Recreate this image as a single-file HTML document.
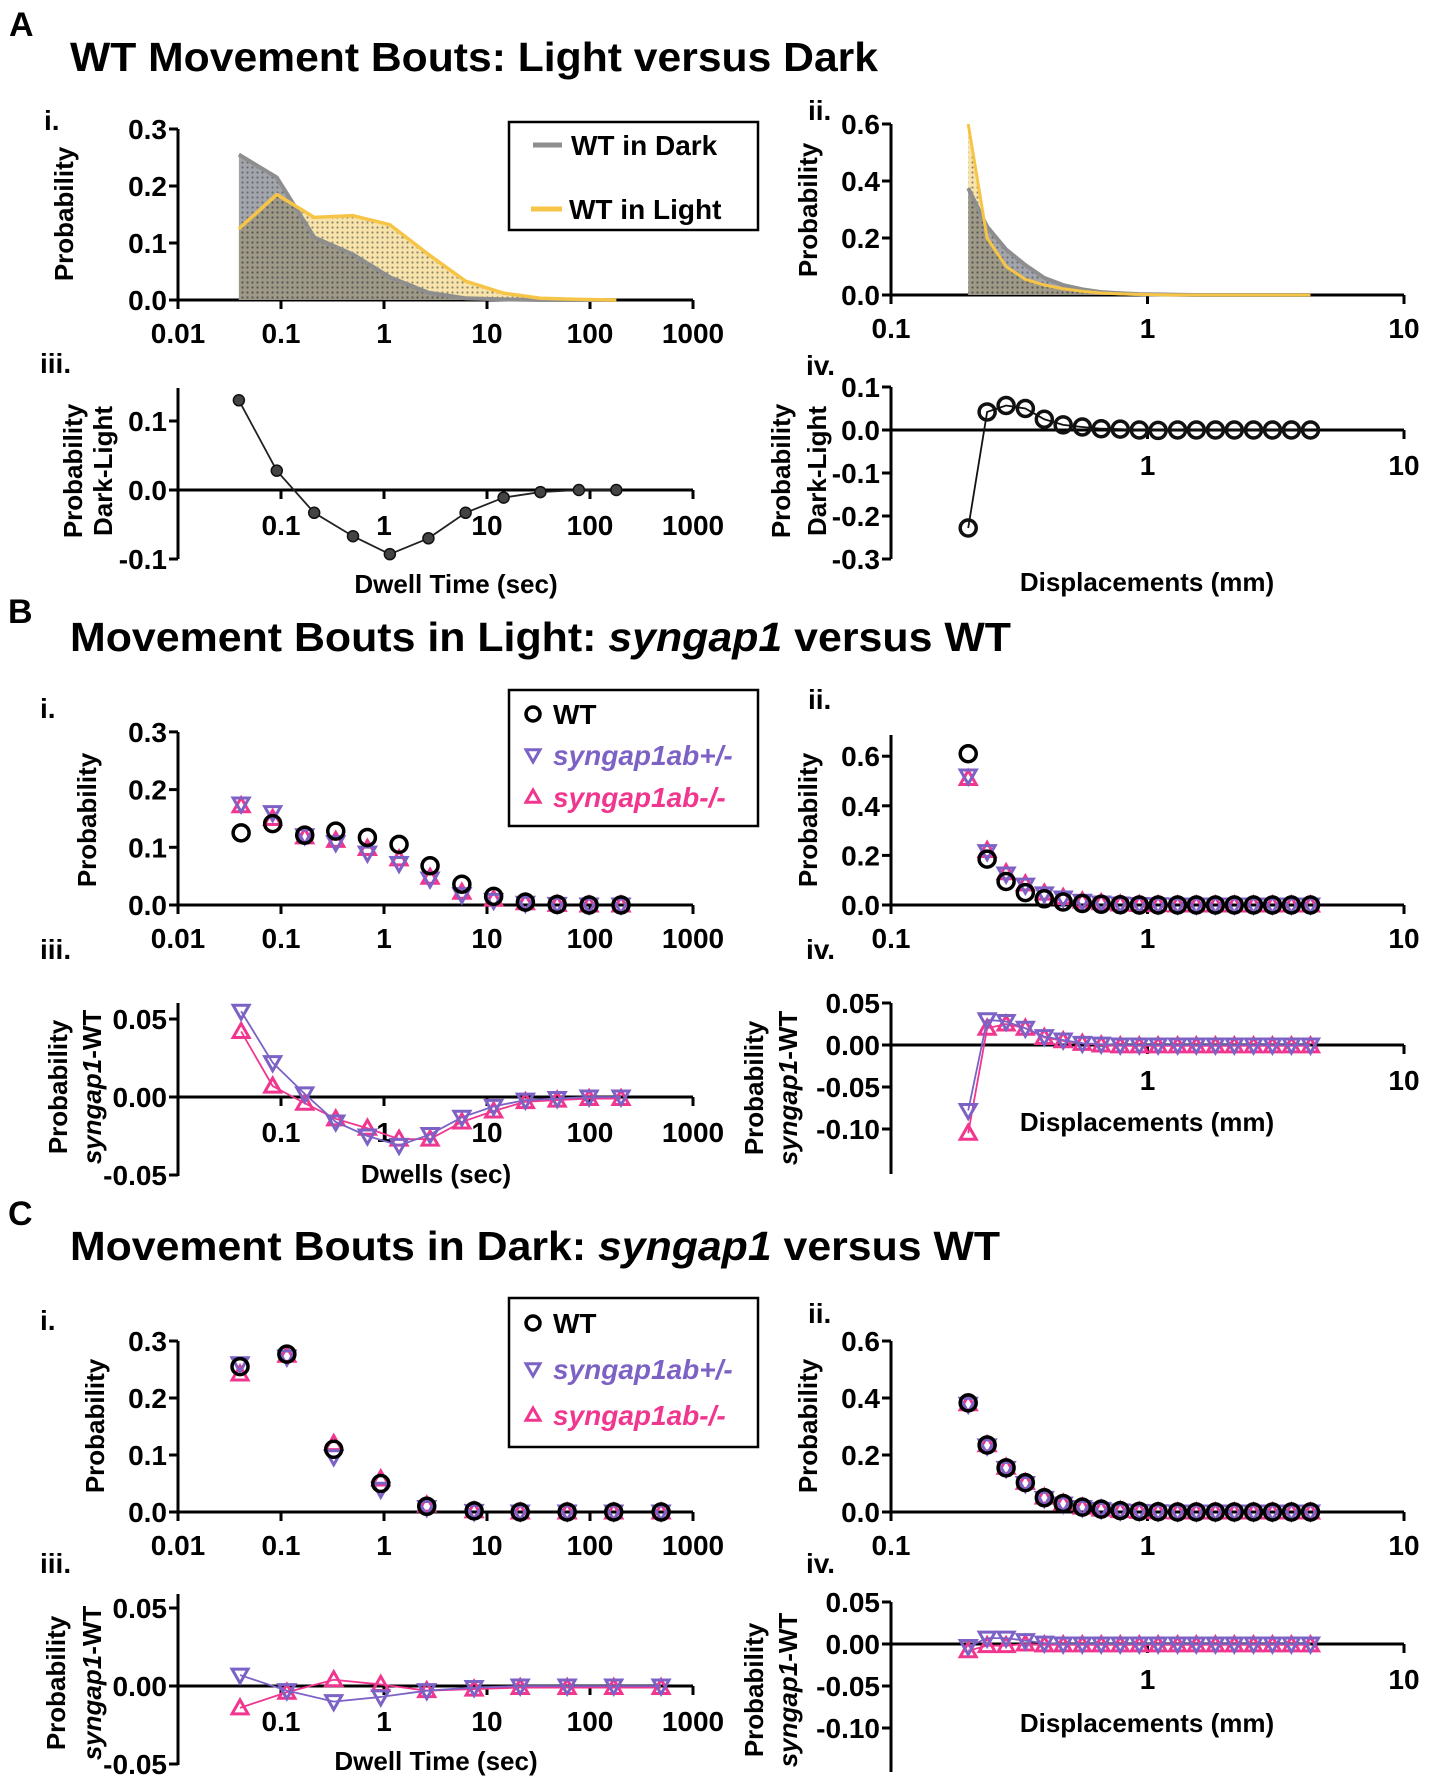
<!DOCTYPE html>
<html><head><meta charset="utf-8">
<style>
html,body{margin:0;padding:0;background:#fff;}
svg{display:block;font-family:"Liberation Sans",Arial,sans-serif;font-weight:bold;}
</style></head>
<body>
<svg id="fig" width="1429" height="1785" viewBox="0 0 1429 1785" xmlns="http://www.w3.org/2000/svg">
<defs>
<pattern id="dots" width="5" height="5" patternUnits="userSpaceOnUse"><circle cx="2.5" cy="2.5" r="1.1" fill="#444"/></pattern>
</defs>
<text x="9" y="36" font-size="34">A</text>
<text x="70" y="71" font-size="41" textLength="808" lengthAdjust="spacingAndGlyphs">WT Movement Bouts: Light versus Dark</text>
<text x="8" y="623" font-size="34">B</text>
<text x="70" y="651" font-size="41" textLength="941" lengthAdjust="spacingAndGlyphs">Movement Bouts in Light: <tspan font-style="italic">syngap1</tspan> versus WT</text>
<text x="8" y="1225" font-size="34">C</text>
<text x="70" y="1260" font-size="41" textLength="930" lengthAdjust="spacingAndGlyphs">Movement Bouts in Dark: <tspan font-style="italic">syngap1</tspan> versus WT</text>
<g id="root"></g>
</svg>
<script>
// ---------- data ----------
const aDwellX = [0.039,0.091,0.21,0.50,1.14,2.7,6.2,14.5,33,78,180];
const aDwellDark = [0.255,0.215,0.11,0.08,0.04,0.013,0.003,0.001,0,0,0];
const aDwellLight = [0.125,0.185,0.145,0.148,0.132,0.08,0.033,0.012,0.003,0.001,0];
const aDwellDiff = [0.13,0.028,-0.033,-0.067,-0.093,-0.07,-0.033,-0.011,-0.003,0,0];
const dispX = [0.2,0.237,0.281,0.334,0.396,0.469,0.557,0.66,0.783,0.929,1.10,1.31,1.55,1.84,2.18,2.59,3.07,3.64,4.32];
const aDispDark = [0.375,0.24,0.16,0.105,0.06,0.035,0.02,0.01,0.006,0.003,0.002,0.001,0,0,0,0,0,0,0];
const aDispLight = [0.6,0.2,0.1,0.055,0.035,0.022,0.013,0.007,0.004,0.002,0.001,0,0,0,0,0,0,0,0];
const aDispDiff = [-0.228,0.042,0.057,0.05,0.025,0.012,0.007,0.003,0.002,0,-0.001,0,0,0,0,0,0,0,0];
const bDwellX = [0.041,0.083,0.17,0.34,0.69,1.4,2.8,5.7,11.6,23.6,48,98,200];
const bDwellWT = [0.125,0.141,0.121,0.128,0.117,0.105,0.068,0.036,0.015,0.005,0.001,0,0];
const bDwellHet = [0.175,0.160,0.12,0.108,0.09,0.072,0.045,0.018,0.008,0.003,0.001,0,0];
const bDwellHom = [0.172,0.150,0.118,0.112,0.098,0.080,0.048,0.022,0.01,0.004,0.001,0,0];
const bDwellDiffHet = [0.055,0.022,0.002,-0.016,-0.025,-0.031,-0.024,-0.013,-0.006,-0.002,-0.001,0,0];
const bDwellDiffHom = [0.042,0.007,-0.004,-0.014,-0.020,-0.027,-0.027,-0.016,-0.009,-0.003,-0.002,-0.001,-0.001];
const bDispWT = [0.61,0.185,0.095,0.05,0.025,0.012,0.006,0.003,0.001,0,0,0,0,0,0,0,0,0,0];
const bDispHet = [0.52,0.215,0.125,0.08,0.045,0.028,0.015,0.008,0.004,0.002,0.001,0,0,0,0,0,0,0,0];
const bDispHom = [0.51,0.22,0.13,0.085,0.048,0.03,0.016,0.009,0.004,0.002,0.001,0,0,0,0,0,0,0,0];
const bDispDiffHet = [-0.078,0.03,0.028,0.02,0.01,0.006,0.002,0.001,0,0,0,0,0,0,0,0,0,0,0];
const bDispDiffHom = [-0.105,0.02,0.025,0.02,0.009,0.005,0.002,0,-0.001,-0.001,-0.001,-0.001,-0.001,-0.001,-0.001,-0.001,-0.001,-0.001,-0.001];
const cDwellX = [0.04,0.114,0.325,0.93,2.6,7.5,21,60,170,490];
const cDwellWT = [0.255,0.277,0.11,0.05,0.01,0.002,0,0,0,0];
const cDwellHet = [0.26,0.272,0.097,0.04,0.008,0.001,0,0,0,0];
const cDwellHom = [0.242,0.275,0.12,0.058,0.012,0.002,0,0,0,0];
const cDwellDiffHet = [0.007,-0.003,-0.01,-0.007,-0.003,-0.001,0,0,0,0];
const cDwellDiffHom = [-0.014,-0.004,0.004,0.001,-0.003,-0.002,-0.001,-0.001,-0.001,-0.001];
const cDispWT = [0.383,0.235,0.155,0.103,0.05,0.03,0.017,0.01,0.005,0.002,0.001,0,0,0,0,0,0,0,0];
const cDispHet = [0.378,0.232,0.153,0.1,0.048,0.028,0.016,0.009,0.004,0.002,0.001,0,0,0,0,0,0,0,0];
const cDispHom = [0.38,0.236,0.157,0.104,0.052,0.031,0.017,0.01,0.005,0.002,0.001,0,0,0,0,0,0,0,0];
const cDispDiffHet = [-0.003,0.007,0.007,0.004,0.001,0,0,0,0,0,0,0,0,0,0,0,0,0,0];
const cDispDiffHom = [-0.008,-0.002,-0.002,0,-0.001,-0.001,-0.001,-0.001,-0.001,-0.001,-0.001,-0.001,-0.001,-0.001,-0.001,-0.001,-0.001,-0.001,-0.001];
const dwellTickLabels = ["0.01","0.1","1","10","100","1000"];
const dispTickLabels = ["0.1","1","10"];

// ---------- helpers ----------
const NS="http://www.w3.org/2000/svg";
const root=document.getElementById('root');
const PURPLE="#7d62c6", PINK="#f0368e";
function mk(tag,attrs,parent){const e=document.createElementNS(NS,tag);for(const k in attrs)e.setAttribute(k,attrs[k]);(parent||root).appendChild(e);return e;}

function makeAxes(cfg){
  const g=mk('g',{});
  
  
  const X=v=>cfg.left+(Math.log10(v)-Math.log10(cfg.x0))*cfg.dec;
  const Y=v=>cfg.y0-v*cfg.k;
  const ax=mk('line',{x1:cfg.left,y1:cfg.yTop,x2:cfg.left,y2:cfg.yBot,stroke:'#000','stroke-width':3},g);
  
  
  const xa=mk('line',{x1:cfg.left,y1:cfg.y0,x2:cfg.xEnd,y2:cfg.y0,stroke:'#000','stroke-width':3},g);
  
  
  cfg.ticks.forEach(t=>{
    const y=Y(t);
    mk('line',{x1:cfg.left-9,y1:y,x2:cfg.left,y2:y,stroke:'#000','stroke-width':3},g);
    const tl=mk('text',{x:cfg.left-11,y:y+10,'font-size':28,'text-anchor':'end'},g);
    
    
    tl.textContent=t.toFixed(cfg.dp);
  });
  cfg.xTickLabels.forEach((lab,i)=>{
    const v=parseFloat(lab);const x=X(v);
    mk('line',{x1:x,y1:cfg.y0,x2:x,y2:cfg.y0+9,stroke:'#000','stroke-width':3},g);
    if(cfg.diff && i===0) return;
    const tl=mk('text',{x:x,y:cfg.y0+(cfg.diff?45:43),'font-size':28,'text-anchor':'middle'},g);
    
    
    tl.textContent=lab;
  });
  return {g,X,Y};
}
function label(txt,x,y,size,attrs){const t=mk('text',Object.assign({x:x,y:y,'font-size':size},attrs||{}));t.textContent=txt;return t;}
function ylab(lines,xs,cy){
  lines.forEach((l,i)=>{
    const t=mk('text',{transform:`translate(${xs[i]},${cy}) rotate(-90)`,'font-size':26,'text-anchor':'middle',dy:9});
    
    
    if(l==='syngap1-WT'){const a=mk('tspan',{'font-style':'italic'},t);a.textContent='syngap1';const b=mk('tspan',{},t);b.textContent='-WT';}
    else t.textContent=l;
  });
}
function marker(g,type,x,y,color,r){
  r=r||8;
  let e;
  if(type==='circle') e=mk('circle',{cx:x,cy:y,r:r,fill:'none',stroke:color,'stroke-width':3.5},g);
  else if(type==='down') e=mk('path',{d:`M${x-r},${y-r*0.75}L${x+r},${y-r*0.75}L${x},${y+r}Z`,fill:'none',stroke:color,'stroke-width':3},g);
  else e=mk('path',{d:`M${x-r},${y+r*0.75}L${x+r},${y+r*0.75}L${x},${y-r}Z`,fill:'none',stroke:color,'stroke-width':3},g);
  
  
  return e;
}
function series(ax,xs,ys,type,color,withLine,lw,name){
  const g=mk('g',{},ax.g);
  
  
  if(withLine){
    const p=mk('polyline',{points:xs.map((v,i)=>ax.X(v)+','+ax.Y(ys[i])).join(' '),fill:'none',stroke:color,'stroke-width':lw||1.8},g);
    
    
  }
  xs.forEach((v,i)=>marker(g,type,ax.X(v),ax.Y(ys[i]),color));
}
function area(ax,xs,ys,fill,stroke,sw,name){
  const pts=[ax.X(xs[0])+','+ax.Y(0)].concat(xs.map((v,i)=>ax.X(v)+','+ax.Y(ys[i]))).concat([ax.X(xs[xs.length-1])+','+ax.Y(0)]).join(' ');
  const a=mk('polygon',{points:pts,fill:fill},ax.g);
  
  
  mk('polygon',{points:pts,fill:'url(#dots)',opacity:0.6},ax.g);
  return ()=>{const l=mk('polyline',{points:xs.map((v,i)=>ax.X(v)+','+ax.Y(ys[i])).join(' '),fill:'none',stroke:stroke,'stroke-width':sw,'stroke-linejoin':'round'},ax.g);
    
    };
}
function legendGeno(x,y,w,h,rows){
  const g=mk('g',{});
  
  
  mk('rect',{x:x,y:y,width:w,height:h,fill:'#fff',stroke:'#000','stroke-width':2.5},g);
  const items=[['circle','#000','WT',false],['down',PURPLE,'syngap1ab+/-',true],['up',PINK,'syngap1ab-/-',true]];
  items.forEach((it,i)=>{
    const e=mk('g',{},g);
    
    
    marker(e,it[0],x+24,rows[i],it[1],7);
    const t=mk('text',{x:x+44,y:rows[i]+10,'font-size':28,fill:it[1],'font-style':it[3]?'italic':'normal'},e);
    t.textContent=it[2];
  });
}
function sub(txt,x,y){const t=label(txt,x,y,28);}
function xtitle(txt,x,y){const t=label(txt,x,y,26,{'text-anchor':'middle'});}

const L={left:178,x0:0.01,dec:103,xEnd:693,xTickLabels:dwellTickLabels};
const R={left:891,x0:0.1,dec:256.5,xEnd:1404,xTickLabels:dispTickLabels};

// ---------- A ----------
sub('i.',44,130); sub('iii.',40,373); sub('ii.',808,120); sub('iv.',806,375);
let ai=makeAxes(Object.assign({},L,{name:'chart-a-i',y0:300,k:570,yTop:129,yBot:300,ticks:[0,0.1,0.2,0.3],dp:1}));
const lgt=area(ai,aDwellX,aDwellLight,'#f8e4aa','#f6c548',3.5,'wt-light');
const drk=area(ai,aDwellX,aDwellDark,'rgba(95,100,110,0.58)','#8e8e8e',4,'wt-dark');
drk(); lgt();
ylab(['Probability'],[64],214);
(function(){const g=mk('g',{});
 mk('rect',{x:509,y:122,width:249,height:108,fill:'#fff',stroke:'#000','stroke-width':2.5},g);
 mk('line',{x1:533,y1:145,x2:562,y2:145,stroke:'#8e8e8e','stroke-width':5},g);
 const t1=mk('text',{x:571,y:155,'font-size':28},g);t1.textContent='WT in Dark';
 
 mk('line',{x1:531,y1:209,x2:562,y2:209,stroke:'#f6c548','stroke-width':5},g);
 const t2=mk('text',{x:569,y:219,'font-size':28},g);t2.textContent='WT in Light';
 })();

let aiii=makeAxes(Object.assign({},L,{name:'chart-a-iii',diff:true,y0:490,k:690,yTop:388,yBot:559,ticks:[-0.1,0,0.1],dp:1}));
(function(){const g=mk('g',{},aiii.g);
 mk('polyline',{points:aDwellX.map((v,i)=>aiii.X(v)+','+aiii.Y(aDwellDiff[i])).join(' '),fill:'none',stroke:'#222','stroke-width':1.8},g);
 aDwellX.forEach((v,i)=>{const c=mk('circle',{cx:aiii.X(v),cy:aiii.Y(aDwellDiff[i]),r:5.5,fill:'#444',stroke:'#111','stroke-width':1.5},g);
 });})();
ylab(['Probability','Dark-Light'],[73,103],471);
xtitle('Dwell Time (sec)',456,593);

let aii=makeAxes(Object.assign({},R,{name:'chart-a-ii',y0:295,k:285,yTop:124,yBot:295,ticks:[0,0.2,0.4,0.6],dp:1}));
const lgt2=area(aii,dispX,aDispLight,'#f8e4aa','#f6c548',3,'wt-light');
const drk2=area(aii,dispX,aDispDark,'rgba(95,100,110,0.58)','#8e8e8e',4,'wt-dark');
drk2(); lgt2();
ylab(['Probability'],[808],210);
let aiv=makeAxes(Object.assign({},R,{name:'chart-a-iv',diff:true,y0:430,k:430,yTop:387,yBot:559,ticks:[-0.3,-0.2,-0.1,0,0.1],dp:1}));
series(aiv,dispX,aDispDiff,'circle','#111',true,1.8,'dark-minus-light-series');
ylab(['Probability','Dark-Light'],[781,817],471);
xtitle('Displacements (mm)',1147,591);

// ---------- B ----------
sub('i.',40,718); sub('iii.',40,959); sub('ii.',808,709); sub('iv.',806,959);
let bi=makeAxes(Object.assign({},L,{name:'chart-b-i',y0:905,k:577,yTop:732,yBot:905,ticks:[0,0.1,0.2,0.3],dp:1}));
series(bi,bDwellX,bDwellHom,'up',PINK,false,0,'hom-series');
series(bi,bDwellX,bDwellHet,'down',PURPLE,false,0,'het-series');
series(bi,bDwellX,bDwellWT,'circle','#000',false,0,'wt-series');
legendGeno(509,690,249,136,[714,755,797]);
ylab(['Probability'],[87],820);
let biii=makeAxes(Object.assign({},L,{name:'chart-b-iii',diff:true,y0:1097,k:1560,yTop:1003,yBot:1176,ticks:[-0.05,0,0.05],dp:2}));
series(biii,bDwellX,bDwellDiffHom,'up',PINK,true,1.8,'hom-minus-wt');
series(biii,bDwellX,bDwellDiffHet,'down',PURPLE,true,1.8,'het-minus-wt');
ylab(['Probability','syngap1-WT'],[58,92],1087);
xtitle('Dwells (sec)',436,1183);
let bii=makeAxes(Object.assign({},R,{name:'chart-b-ii',y0:905,k:248,yTop:735,yBot:905,ticks:[0,0.2,0.4,0.6],dp:1}));
series(bii,dispX,bDispHom,'up',PINK,false,0,'hom-series');
series(bii,dispX,bDispHet,'down',PURPLE,false,0,'het-series');
series(bii,dispX,bDispWT,'circle','#000',false,0,'wt-series');
ylab(['Probability'],[808],820);
let biv=makeAxes(Object.assign({},R,{name:'chart-b-iv',diff:true,y0:1045,k:840,yTop:1003,yBot:1174,ticks:[-0.1,-0.05,0,0.05],dp:2}));
series(biv,dispX,bDispDiffHom,'up',PINK,true,1.8,'hom-minus-wt');
series(biv,dispX,bDispDiffHet,'down',PURPLE,true,1.8,'het-minus-wt');
ylab(['Probability','syngap1-WT'],[754,788],1088);
xtitle('Displacements (mm)',1147,1131);

// ---------- C ----------
sub('i.',40,1330); sub('iii.',40,1573); sub('ii.',808,1323); sub('iv.',806,1573);
let ci=makeAxes(Object.assign({},L,{name:'chart-c-i',y0:1512,k:570,yTop:1341,yBot:1512,ticks:[0,0.1,0.2,0.3],dp:1}));
series(ci,cDwellX,cDwellHom,'up',PINK,false,0,'hom-series');
series(ci,cDwellX,cDwellHet,'down',PURPLE,false,0,'het-series');
series(ci,cDwellX,cDwellWT,'circle','#000',false,0,'wt-series');
legendGeno(509,1298,249,149,[1323,1369,1415]);
ylab(['Probability'],[95],1426);
let ciii=makeAxes(Object.assign({},L,{name:'chart-c-iii',diff:true,y0:1686,k:1560,yTop:1594,yBot:1765,ticks:[-0.05,0,0.05],dp:2}));
series(ciii,cDwellX,cDwellDiffHom,'up',PINK,true,1.8,'hom-minus-wt');
series(ciii,cDwellX,cDwellDiffHet,'down',PURPLE,true,1.8,'het-minus-wt');
ylab(['Probability','syngap1-WT'],[56,92],1683);
xtitle('Dwell Time (sec)',436,1770);
let cii=makeAxes(Object.assign({},R,{name:'chart-c-ii',y0:1512,k:285,yTop:1341,yBot:1512,ticks:[0,0.2,0.4,0.6],dp:1}));
series(cii,dispX,cDispHom,'up',PINK,false,0,'hom-series');
series(cii,dispX,cDispHet,'down',PURPLE,false,0,'het-series');
series(cii,dispX,cDispWT,'circle','#000',false,0,'wt-series');
ylab(['Probability'],[808],1426);
let civ=makeAxes(Object.assign({},R,{name:'chart-c-iv',diff:true,y0:1644,k:840,yTop:1602,yBot:1772,ticks:[-0.1,-0.05,0,0.05],dp:2}));
series(civ,dispX,cDispDiffHom,'up',PINK,true,1.8,'hom-minus-wt');
series(civ,dispX,cDispDiffHet,'down',PURPLE,true,1.8,'het-minus-wt');
ylab(['Probability','syngap1-WT'],[754,788],1690);
xtitle('Displacements (mm)',1147,1732);
</script>
</body></html>
